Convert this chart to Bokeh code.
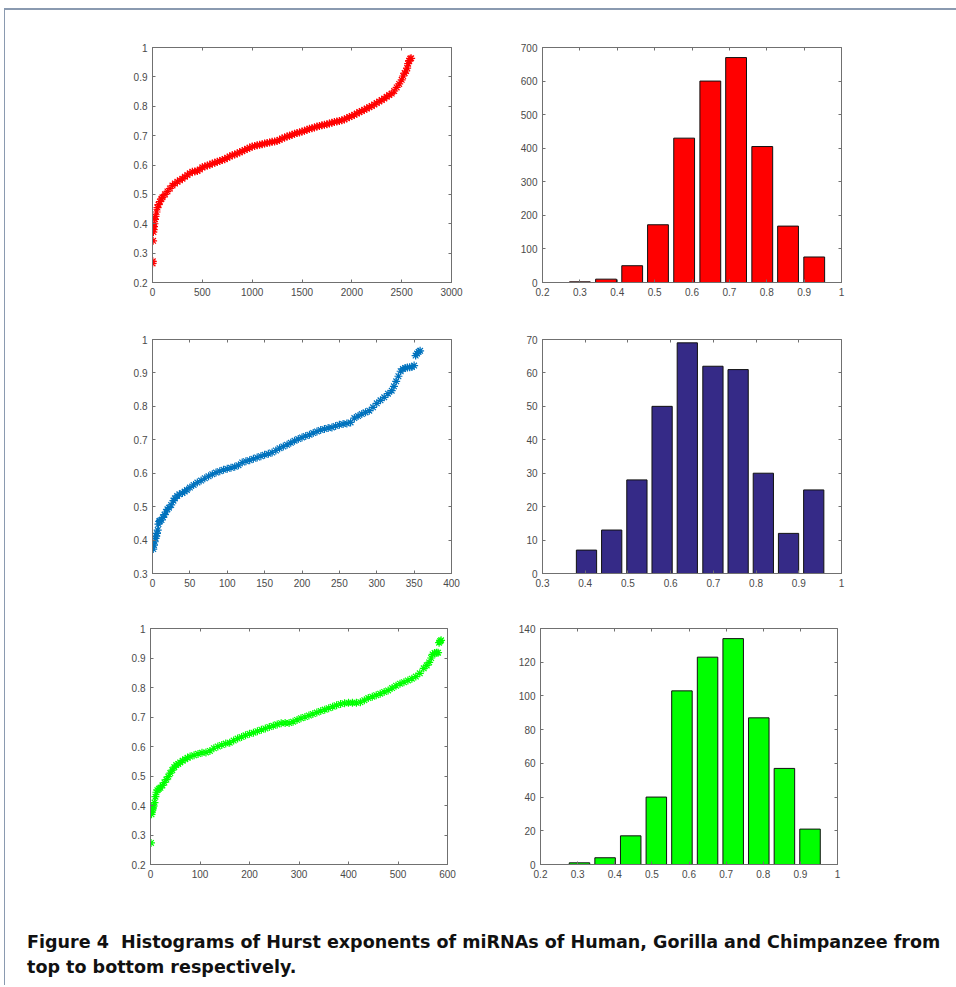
from bokeh.plotting import figure
from bokeh.layouts import column, row
from bokeh.models import Range1d, FixedTicker, LinearAxis, CustomJSTickFormatter, Div
from bokeh.embed import file_html
from bokeh.resources import INLINE

# ---------------- data ----------------
# Human: sorted Hurst exponents (index, value)
human_idx = [1, 3, 6, 9, 12, 15, 20, 25, 30, 40, 50, 60, 75, 90, 100, 125, 150, 175, 200, 225,
             250, 275, 300, 325, 350, 375, 400, 425, 450, 475, 500, 525, 550, 575, 600, 625, 650,
             675, 700, 725, 750, 775, 800, 825, 850, 875, 900, 925, 950, 975, 1000, 1025, 1050,
             1075, 1100, 1125, 1150, 1175, 1200, 1225, 1250, 1275, 1300, 1325, 1350, 1375, 1400,
             1425, 1450, 1475, 1500, 1525, 1550, 1575, 1600, 1625, 1650, 1675, 1700, 1725, 1750,
             1775, 1800, 1825, 1850, 1875, 1900, 1925, 1950, 1975, 2000, 2025, 2050, 2075, 2100,
             2125, 2150, 2175, 2200, 2225, 2250, 2275, 2300, 2325, 2350, 2375, 2400, 2425, 2450,
             2475, 2500, 2515, 2530, 2545, 2555, 2565, 2575, 2585, 2595]
human_h = [0.265, 0.272, 0.342, 0.372, 0.38, 0.39, 0.40, 0.415, 0.425, 0.44, 0.455, 0.465, 0.475,
           0.485, 0.49, 0.50, 0.51, 0.52, 0.53, 0.537, 0.543, 0.548, 0.553, 0.56, 0.566, 0.572,
           0.577, 0.578, 0.58, 0.585, 0.592, 0.595, 0.598, 0.601, 0.605, 0.608, 0.611, 0.614,
           0.617, 0.62, 0.625, 0.629, 0.633, 0.636, 0.639, 0.643, 0.647, 0.651, 0.655, 0.659,
           0.663, 0.665, 0.667, 0.669, 0.671, 0.673, 0.675, 0.677, 0.679, 0.68, 0.682, 0.686,
           0.69, 0.694, 0.697, 0.70, 0.703, 0.706, 0.709, 0.711, 0.714, 0.717, 0.72, 0.723,
           0.725, 0.728, 0.731, 0.733, 0.735, 0.737, 0.739, 0.741, 0.744, 0.746, 0.748, 0.75,
           0.752, 0.755, 0.759, 0.763, 0.767, 0.771, 0.775, 0.78, 0.784, 0.788, 0.792, 0.797,
           0.801, 0.806, 0.811, 0.816, 0.821, 0.826, 0.832, 0.838, 0.843, 0.852, 0.864, 0.876,
           0.89, 0.903, 0.913, 0.92, 0.93, 0.945, 0.955, 0.962, 0.963]

# Gorilla
gorilla_idx = [1, 2, 3, 4, 5, 6, 7, 8, 9, 10, 12, 14, 16, 18, 20, 22, 25, 28, 30, 33, 36, 40, 43,
               46, 50, 55, 60, 65, 70, 75, 80, 85, 90, 95, 100, 105, 110, 115, 120, 125, 130, 135,
               140, 145, 150, 155, 160, 165, 170, 175, 180, 185, 190, 195, 200, 205, 210, 215,
               220, 225, 230, 235, 240, 245, 250, 255, 260, 265, 270, 275, 280, 285, 290, 295,
               300, 305, 310, 315, 320, 323, 326, 329, 332, 335, 338, 341, 344, 347, 350, 352,
               354, 356, 358]
gorilla_h = [0.373, 0.385, 0.395, 0.405, 0.412, 0.42, 0.43, 0.448, 0.456, 0.458, 0.46, 0.468,
             0.476, 0.484, 0.492, 0.497, 0.505, 0.518, 0.525, 0.532, 0.537, 0.541, 0.545, 0.55,
             0.557, 0.565, 0.572, 0.578, 0.585, 0.591, 0.597, 0.602, 0.606, 0.61, 0.613, 0.616,
             0.619, 0.624, 0.632, 0.636, 0.639, 0.643, 0.647, 0.651, 0.655, 0.658, 0.662, 0.668,
             0.675, 0.68, 0.685, 0.691, 0.697, 0.702, 0.707, 0.711, 0.715, 0.72, 0.725, 0.729,
             0.732, 0.735, 0.737, 0.741, 0.745, 0.747, 0.749, 0.752, 0.765, 0.771, 0.777, 0.782,
             0.787, 0.797, 0.809, 0.818, 0.827, 0.838, 0.847, 0.86, 0.875, 0.89, 0.905, 0.912,
             0.915, 0.916, 0.917, 0.918, 0.922, 0.952, 0.958, 0.963, 0.966]

# Chimpanzee
chimp_idx = [1, 2, 3, 4, 5, 6, 8, 10, 12, 14, 17, 20, 24, 28, 32, 36, 40, 44, 48, 52, 56, 60, 65,
             70, 75, 80, 88, 96, 104, 112, 120, 128, 136, 144, 152, 160, 168, 176, 184, 192, 200,
             208, 216, 224, 232, 240, 248, 256, 264, 272, 280, 288, 296, 304, 312, 320, 328, 336,
             344, 352, 360, 368, 376, 384, 392, 400, 408, 416, 424, 432, 440, 448, 456, 464, 472,
             480, 488, 496, 504, 512, 520, 528, 536, 544, 552, 558, 563, 567, 570, 574, 578, 581,
             583, 585, 587]
chimp_h = [0.273, 0.37, 0.378, 0.385, 0.392, 0.398, 0.41, 0.43, 0.445, 0.452, 0.457, 0.46, 0.468,
           0.478, 0.488, 0.498, 0.51, 0.52, 0.53, 0.537, 0.541, 0.546, 0.552, 0.557, 0.562, 0.566,
           0.57, 0.575, 0.579, 0.58, 0.585, 0.594, 0.60, 0.605, 0.61, 0.613, 0.62, 0.627, 0.632,
           0.638, 0.643, 0.647, 0.652, 0.657, 0.661, 0.666, 0.67, 0.675, 0.679, 0.68, 0.68, 0.684,
           0.69, 0.696, 0.70, 0.705, 0.71, 0.715, 0.72, 0.725, 0.73, 0.735, 0.74, 0.744, 0.747,
           0.748, 0.748, 0.748, 0.75, 0.757, 0.764, 0.769, 0.774, 0.779, 0.785, 0.79, 0.798, 0.806,
           0.813, 0.818, 0.824, 0.83, 0.837, 0.848, 0.865, 0.875, 0.885, 0.90, 0.912, 0.917, 0.918,
           0.918, 0.952, 0.957, 0.96]

# Histograms (bin centres and counts)
human_bins = [0.300, 0.370, 0.440, 0.509, 0.579, 0.649, 0.718, 0.788, 0.857, 0.927]
human_counts = [2, 10, 50, 172, 430, 600, 670, 405, 168, 76]
gorilla_bins = [0.403, 0.462, 0.521, 0.580, 0.639, 0.699, 0.758, 0.817, 0.876, 0.935]
gorilla_counts = [7, 13, 28, 50, 69, 62, 61, 30, 12, 25]
chimp_bins = [0.305, 0.374, 0.443, 0.512, 0.581, 0.650, 0.719, 0.788, 0.857, 0.926]
chimp_counts = [1, 4, 17, 40, 103, 123, 134, 87, 57, 21]

# ticks
h_ticks01 = [0.2, 0.3, 0.4, 0.5, 0.6, 0.7, 0.8, 0.9, 1.0]
g_ticks01 = [0.3, 0.4, 0.5, 0.6, 0.7, 0.8, 0.9, 1.0]
human_xticks = [0, 500, 1000, 1500, 2000, 2500, 3000]
gorilla_xticks = [0, 50, 100, 150, 200, 250, 300, 350, 400]
chimp_xticks = [0, 100, 200, 300, 400, 500, 600]
human_cticks = [0, 100, 200, 300, 400, 500, 600, 700]
gorilla_cticks = [0, 10, 20, 30, 40, 50, 60, 70]
chimp_cticks = [0, 20, 40, 60, 80, 100, 120, 140]

# ---------------- styling helpers ----------------
AX = "#707070"
LBL = "#4a4a4a"
FONT = "Liberation Sans"
fmt_code = "return String(+tick.toFixed(6));"


def make_fig(w, h, ml, mr, mt, mb, xr, yr, xt, yt):
    p = figure(width=w, height=h, x_range=Range1d(*xr), y_range=Range1d(*yr),
               output_backend="svg", toolbar_location=None,
               min_border_left=ml, min_border_right=mr, min_border_top=mt, min_border_bottom=mb)
    p.xgrid.visible = False
    p.ygrid.visible = False
    p.outline_line_color = AX
    p.outline_line_alpha = 1.0
    p.outline_line_width = 1
    p.background_fill_color = "white"
    p.border_fill_color = "white"
    for ax, ticks in ((p.xaxis[0], xt), (p.yaxis[0], yt)):
        ax.ticker = FixedTicker(ticks=ticks)
        ax.formatter = CustomJSTickFormatter(code=fmt_code)
        ax.axis_line_color = AX
        ax.major_tick_line_color = AX
        ax.major_tick_in = 3
        ax.major_tick_out = 0
        ax.minor_tick_line_color = None
        ax.major_label_text_font = FONT
        ax.major_label_text_font_size = "10px"
        ax.major_label_text_color = LBL
        ax.major_label_standoff = 5
    for loc, ticks in (("above", xt), ("right", yt)):
        ax = LinearAxis(ticker=FixedTicker(ticks=ticks),
                        formatter=CustomJSTickFormatter(code="return '';"))
        ax.axis_line_color = None
        ax.major_tick_line_color = AX
        ax.major_tick_in = 3
        ax.major_tick_out = 0
        ax.minor_tick_line_color = None
        ax.major_label_standoff = 0
        p.add_layout(ax, loc)
    return p


# ---------------- row 1: Human ----------------
p1 = make_fig(485, 300, 147, 39, 37, 28, (0, 3000), (0.2, 1.0), human_xticks, h_ticks01)
p1.scatter(human_idx, human_h, marker="asterisk", size=8, line_color="#ff0000", line_width=1.2)
p2 = make_fig(464, 300, 52, 113, 37, 28, (0.2, 1.0), (0, 700), h_ticks01, human_cticks)
p2.vbar(x=human_bins, top=human_counts, width=0.0557, bottom=0,
        fill_color="#ff0000", line_color="#111111", line_width=1)

# ---------------- row 2: Gorilla ----------------
p3 = make_fig(485, 290, 147, 39, 29, 27, (0, 400), (0.3, 1.0), gorilla_xticks, g_ticks01)
p3.scatter(gorilla_idx, gorilla_h, marker="asterisk", size=8, line_color="#0072bd", line_width=1.2)
p4 = make_fig(464, 290, 52, 113, 29, 27, (0.3, 1.0), (0, 70), g_ticks01, gorilla_cticks)
p4.vbar(x=gorilla_bins, top=gorilla_counts, width=0.0474, bottom=0,
        fill_color="#352a87", line_color="#111111", line_width=1)

# ---------------- row 3: Chimpanzee ----------------
p5 = make_fig(485, 290, 145, 43, 28, 26, (0, 600), (0.2, 1.0), chimp_xticks, h_ticks01)
p5.scatter(chimp_idx, chimp_h, marker="asterisk", size=8, line_color="#00ff00", line_width=1.2)
p6 = make_fig(464, 290, 50, 117, 28, 26, (0.2, 1.0), (0, 140), h_ticks01, chimp_cticks)
p6.vbar(x=chimp_bins, top=chimp_counts, width=0.0552, bottom=0,
        fill_color="#00ff00", line_color="#111111", line_width=1)

caption = Div(
    text=("Figure 4&nbsp; Histograms of Hurst exponents of miRNAs of Human, Gorilla and Chimpanzee from"
          "<br>top to bottom respectively."),
    width=949, height=85,
    styles={"font-family": "DejaVu Sans", "font-weight": "bold", "font-size": "17.55px",
            "line-height": "25px", "color": "#111111", "padding-left": "17px",
            "padding-top": "35px", "white-space": "nowrap"},
)

layout = column(row(p1, p2), row(p3, p4), row(p5, p6), caption,
                margin=(8, 0, 0, 4),
                styles={"border-top": "2px solid #8a9ab0", "border-left": "1px solid #8a9ab0"})

with open("out.html", "w") as f:
    f.write(file_html(layout, INLINE))
